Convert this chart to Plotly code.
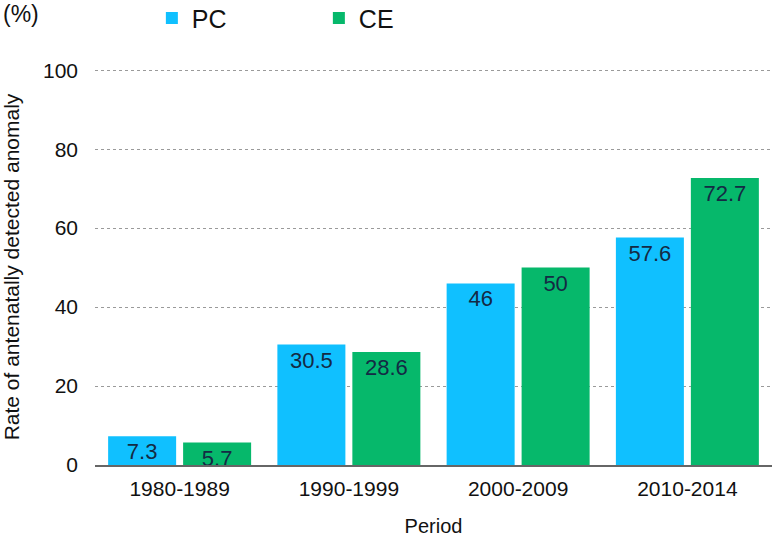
import plotly.graph_objects as go

categories = ["1980-1989", "1990-1999", "2000-2009", "2010-2014"]
pc_values = [7.3, 30.5, 46, 57.6]
ce_values = [5.7, 28.6, 50, 72.7]
pc_labels = ["7.3", "30.5", "46", "57.6"]
ce_labels = ["5.7", "28.6", "50", "72.7"]
y_ticks = [0, 20, 40, 60, 80, 100]

font_family = "Liberation Sans, Arial, sans-serif"
label_font = dict(size=22, color="#142a44", family=font_family)

fig = go.Figure()
fig.add_trace(go.Bar(
    x=categories, y=pc_values, name="PC", text=pc_labels,
    textposition="inside", insidetextanchor="end", constraintext="none",
    textfont=label_font, textangle=0,
    marker=dict(color="#10c0ff", line=dict(width=0)),
))
fig.add_trace(go.Bar(
    x=categories, y=ce_values, name="CE", text=ce_labels,
    textposition="inside", insidetextanchor="end", constraintext="none",
    textfont=label_font, textangle=0,
    marker=dict(color="#06b86b", line=dict(width=0)),
))

fig.update_layout(
    width=774, height=537,
    margin=dict(l=95, r=2, t=69, b=72, autoexpand=False),
    plot_bgcolor="white", paper_bgcolor="white",
    font=dict(family=font_family, color="#111111"),
    barmode="group", bargap=0.114, bargroupgap=0.093,
    legend=dict(orientation="h", x=0.084, y=1.128, xanchor="left", yanchor="middle",
                font=dict(size=25), entrywidth=122, entrywidthmode="pixels",
                bgcolor="rgba(0,0,0,0)"),
    annotations=[dict(text="(%)", x=-0.139, y=1.14, xref="paper", yref="paper",
                      xanchor="left", yanchor="middle", showarrow=False,
                      font=dict(size=23, color="#111111"))],
)
fig.update_yaxes(
    range=[0, 100.3], tickvals=y_ticks, showgrid=True, gridcolor="#9a9a9a",
    griddash="dot", gridwidth=1, zeroline=False, showline=False,
    tickfont=dict(size=21), ticks="", ticklabelstandoff=16,
    title=dict(text="Rate of antenatally detected anomaly", font=dict(size=21),
               standoff=19),
)
fig.update_xaxes(
    showline=True, linecolor="#666666", linewidth=2, ticks="",
    tickfont=dict(size=21), ticklabelstandoff=4,
    title=dict(text="Period", font=dict(size=20), standoff=21),
)
fig.write_html("out.html", config={"displayModeBar": False},
               post_script="document.body.style.margin='0px';")
